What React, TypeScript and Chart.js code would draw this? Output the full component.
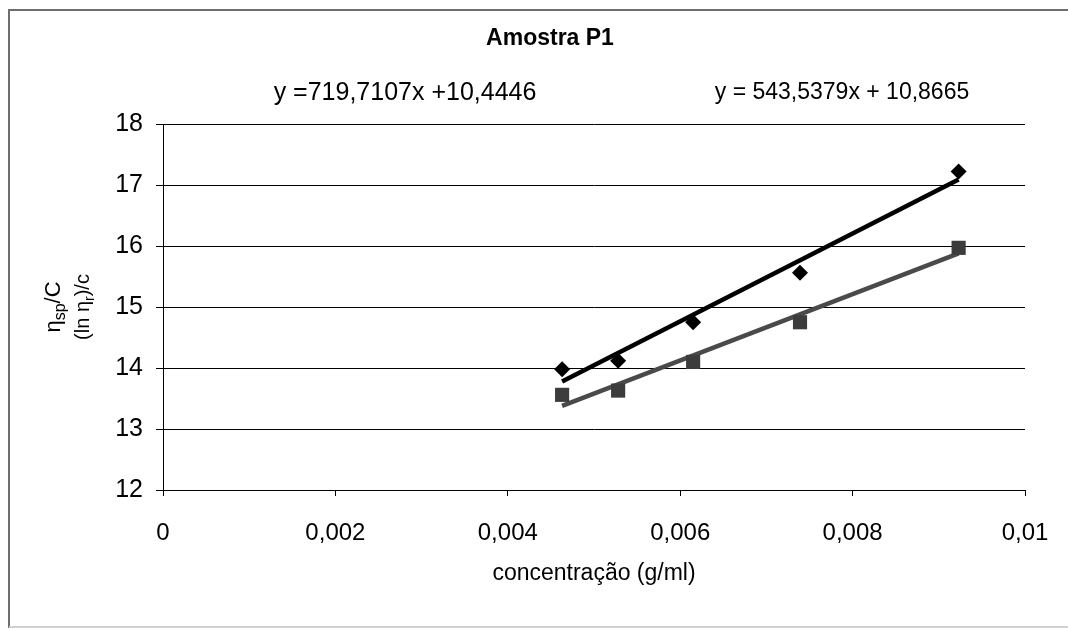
import React, { useEffect, useRef } from 'react';
import { Chart, registerables } from 'chart.js';

Chart.register(...registerables);

// ---- data ----
const concentrations = [0.00463, 0.00528, 0.00615, 0.00739, 0.00923];
const etaSpOverC = [13.98, 14.12, 14.75, 15.56, 17.22];
const lnEtaROverC = [13.56, 13.63, 14.1, 14.75, 15.97];
const trendX = [0.00463, 0.00923];
const trendSp = [13.78, 17.09];
const trendLn = [13.38, 15.88];

const xTickValues = [0, 0.002, 0.004, 0.006, 0.008, 0.01];
const xTickLabels = ['0', '0,002', '0,004', '0,006', '0,008', '0,01'];
const yTickValues = [12, 13, 14, 15, 16, 17, 18];
const yTickLabels = ['12', '13', '14', '15', '16', '17', '18'];

const chartTitle = 'Amostra P1';
const equationSp = 'y =719,7107x +10,4446';
const equationLn = 'y = 543,5379x + 10,8665';
const xAxisTitle = 'concentração (g/ml)';
const yTitleLine1 = [
  { t: 'η', sub: false },
  { t: 'sp', sub: true },
  { t: '/C', sub: false },
];
const yTitleLine2 = [
  { t: '(ln ', sub: false },
  { t: 'η', sub: false },
  { t: 'r', sub: true },
  { t: ')/c', sub: false },
];

const FONT = '"Liberation Sans", Arial, Helvetica, sans-serif';

function drawRich(ctx: CanvasRenderingContext2D, parts: { t: string; sub: boolean }[], size: number, cx: number, cy: number) {
  const subSize = Math.round(size * 0.72);
  let total = 0;
  const widths = parts.map((p) => {
    ctx.font = `${p.sub ? subSize : size}px ${FONT}`;
    const w = ctx.measureText(p.t).width;
    total += w;
    return w;
  });
  ctx.save();
  ctx.translate(cx, cy);
  ctx.rotate(-Math.PI / 2);
  ctx.textAlign = 'left';
  ctx.textBaseline = 'alphabetic';
  let x = -total / 2;
  const base = size * 0.36;
  parts.forEach((p, i) => {
    ctx.font = `${p.sub ? subSize : size}px ${FONT}`;
    ctx.fillText(p.t, x, p.sub ? base + size * 0.22 : base);
    x += widths[i];
  });
  ctx.restore();
}

const decorPlugin = {
  id: 'decor',
  beforeDraw(chart: any) {
    const ctx = chart.ctx as CanvasRenderingContext2D;
    ctx.save();
    ctx.fillStyle = '#ffffff';
    ctx.fillRect(0, 0, chart.width, chart.height);
    ctx.strokeStyle = '#6e6e6e';
    ctx.lineWidth = 2;
    ctx.beginPath();
    ctx.moveTo(8, 10);
    ctx.lineTo(1068, 10);
    ctx.moveTo(9, 10);
    ctx.lineTo(9, 628);
    ctx.stroke();
    ctx.strokeStyle = '#d0d0d0';
    ctx.beginPath();
    ctx.moveTo(9, 627);
    ctx.lineTo(1068, 627);
    ctx.stroke();
    ctx.restore();
  },
  afterDraw(chart: any) {
    const ctx = chart.ctx as CanvasRenderingContext2D;
    const area = chart.chartArea;
    ctx.save();
    ctx.fillStyle = '#000';
    ctx.textAlign = 'center';
    ctx.textBaseline = 'middle';
    ctx.font = `bold 23px ${FONT}`;
    ctx.fillText(chartTitle, 550, 39);
    ctx.font = `25px ${FONT}`;
    ctx.fillText(equationSp, 405, 93);
    ctx.font = `23px ${FONT}`;
    ctx.fillText(equationLn, 842, 93);
    ctx.font = `23px ${FONT}`;
    ctx.fillText(xAxisTitle, (area.left + area.right) / 2, 574);
    drawRich(ctx, yTitleLine1, 22, 52, 307);
    drawRich(ctx, yTitleLine2, 20, 82, 307);
    ctx.restore();
  },
};

export default function App() {
  const canvasRef = useRef<HTMLCanvasElement | null>(null);

  useEffect(() => {
    const canvas = canvasRef.current;
    if (!canvas) return;
    const toPoints = (xs: number[], ys: number[]) => xs.map((x, i) => ({ x, y: ys[i] }));
    const chart = new Chart(canvas, {
      type: 'scatter',
      data: {
        datasets: [
          {
            label: 'ηsp/C',
            data: toPoints(concentrations, etaSpOverC),
            pointStyle: 'rectRot',
            pointRadius: 8,
            pointBackgroundColor: '#000000',
            pointBorderColor: '#000000',
            pointBorderWidth: 0,
            showLine: false,
            order: 0,
          },
          {
            label: '(ln ηr)/c',
            data: toPoints(concentrations, lnEtaROverC),
            pointStyle: 'rect',
            pointRadius: 10,
            pointBackgroundColor: '#3c3c3c',
            pointBorderColor: '#3c3c3c',
            pointBorderWidth: 0,
            showLine: false,
            order: 0,
          },
          {
            label: 'trend ηsp/C',
            data: toPoints(trendX, trendSp),
            showLine: true,
            borderColor: '#000000',
            borderWidth: 4.5,
            pointRadius: 0,
            order: 1,
          },
          {
            label: 'trend ln',
            data: toPoints(trendX, trendLn),
            showLine: true,
            borderColor: '#4a4a4a',
            borderWidth: 4.5,
            pointRadius: 0,
            order: 1,
          },
        ],
      },
      options: {
        animation: false,
        responsive: false,
        maintainAspectRatio: false,
        layout: { padding: { top: 124, right: 43, left: 0, bottom: 0 } },
        plugins: {
          legend: { display: false },
          title: { display: false },
          tooltip: { enabled: false },
        },
        elements: { line: { tension: 0 } },
        datasets: { scatter: { clip: false } } as any,
        scales: {
          x: {
            type: 'linear',
            min: 0,
            max: 0.01,
            afterBuildTicks: (scale: any) => {
              scale.ticks = xTickValues.map((v) => ({ value: v }));
            },
            afterFit: (scale: any) => {
              scale.height = 140;
              scale.paddingRight = 20;
              scale.paddingLeft = 0;
            },
            ticks: {
              callback: (_v: any, i: number) => xTickLabels[i],
              color: '#000',
              font: { family: FONT, size: 24 },
              padding: 23,
              maxRotation: 0,
              autoSkip: false,
            },
            grid: {
              drawOnChartArea: false,
              drawTicks: true,
              tickLength: 6,
              color: '#000',
              lineWidth: 1,
            },
            border: { display: true, color: '#000', width: 1 },
          },
          y: {
            type: 'linear',
            min: 12,
            max: 18,
            afterBuildTicks: (scale: any) => {
              scale.ticks = yTickValues.map((v) => ({ value: v }));
            },
            afterFit: (scale: any) => {
              scale.width = 163;
            },
            ticks: {
              callback: (_v: any, i: number) => yTickLabels[i],
              color: '#000',
              font: { family: FONT, size: 25 },
              padding: 13,
              autoSkip: false,
            },
            grid: {
              drawOnChartArea: true,
              drawTicks: true,
              tickLength: 7,
              color: '#000',
              lineWidth: 1,
            },
            border: { display: true, color: '#000', width: 1 },
          },
        },
      },
      plugins: [decorPlugin],
    } as any);
    return () => chart.destroy();
  }, []);

  return (
    <div style={{ position: 'fixed', left: 0, top: 0, width: 1068, height: 630, background: '#fff' }}>
      <canvas ref={canvasRef} width={1068} height={630} style={{ width: 1068, height: 630, display: 'block' }} />
    </div>
  );
}
